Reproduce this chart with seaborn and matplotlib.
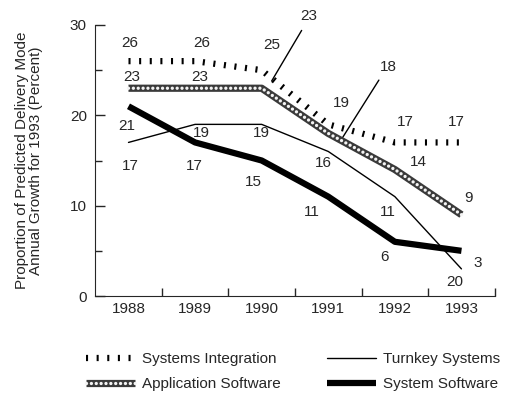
import pandas as pd
import matplotlib
matplotlib.use("Agg")
from matplotlib import pyplot as plt
from matplotlib.lines import Line2D
from matplotlib.legend_handler import HandlerTuple
import seaborn as sns

# chart data
years = [1988, 1989, 1990, 1991, 1992, 1993]
systems_integration = [26, 26, 25, 19, 17, 17]
application_software = [23, 23, 23, 18, 14, 9]
turnkey_systems = [17, 19, 19, 16, 11, 3]
system_software = [21, 17, 15, 11, 6, 5]

# value labels as printed on the chart: (text, x, y)
point_labels = [
    ("26", 1988.02, 28.0), ("26", 1989.1, 28.0), ("25", 1990.15, 27.8),
    ("23", 1988.05, 24.2), ("23", 1989.07, 24.2),
    ("21", 1987.97, 18.8), ("19", 1989.1, 18.0), ("19", 1990.0, 18.0),
    ("17", 1988.02, 14.4), ("17", 1988.99, 14.4), ("15", 1989.87, 12.6),
    ("23", 1990.7, 31.0), ("18", 1991.9, 25.4),
    ("19", 1991.2, 21.4), ("17", 1992.15, 19.3), ("17", 1992.93, 19.3),
    ("16", 1990.92, 14.7), ("14", 1992.35, 14.8), ("9", 1993.1, 10.8),
    ("11", 1990.76, 9.3), ("11", 1991.9, 9.3), ("6", 1991.85, 4.3),
    ("3", 1993.25, 3.6), ("20", 1992.9, 1.6),
]

df = pd.DataFrame({
    'Year': years,
    'Systems Integration': systems_integration,
    'Application Software': application_software,
    'Turnkey Systems': turnkey_systems,
    'System Software': system_software,
})

sns.set_style("ticks")
plt.rcParams['font.family'] = ['Liberation Sans', 'DejaVu Sans']

fig = plt.figure(figsize=(5.23, 4.0), dpi=100)
ax = fig.add_axes([0.182, 0.26, 0.764, 0.6775])

si_style = dict(color='black', linewidth=4.5, linestyle=(0, (0.33, 1.37)), dash_capstyle='butt')
sns.lineplot(x='Year', y='Systems Integration', data=df, ax=ax, **si_style)

# patterned line: dark band with a row of light dots on top
as_base = dict(color='#3a3a3a', linewidth=5.2, solid_capstyle='butt')
as_top = dict(color='#f4f4f4', linewidth=2.4, linestyle=(0, (0.01, 1.45)), dash_capstyle='round')
sns.lineplot(x='Year', y='Application Software', data=df, ax=ax, **as_base)
sns.lineplot(x='Year', y='Application Software', data=df, ax=ax, **as_top)

tk_style = dict(color='black', linewidth=1.0)
sns.lineplot(x='Year', y='Turnkey Systems', data=df, ax=ax, **tk_style)

ss_style = dict(color='black', linewidth=4.5, solid_capstyle='butt')
sns.lineplot(x='Year', y='System Software', data=df, ax=ax, **ss_style)

for txt, x, y in point_labels:
    ax.text(x, y, txt, ha='center', va='center', fontsize=11, clip_on=False)

# leader lines for the two callouts
ax.plot([1990.15, 1990.6], [23.8, 29.4], color='black', lw=1, clip_on=False)
ax.plot([1991.22, 1991.76], [17.6, 23.9], color='black', lw=1, clip_on=False)

ax.set_xlim(1987.5, 1993.5)
ax.set_ylim(0, 30)
ax.set_xticks(years)
ax.set_xticklabels([str(y) for y in years], fontsize=11)
ax.set_xticks([y + 0.5 for y in years], minor=True)
ax.tick_params(axis='x', which='major', length=0, pad=4)
ax.tick_params(axis='x', which='minor', direction='in', length=6, width=1)
ax.set_yticks([0, 10, 20, 30])
ax.set_yticks([5, 15, 25], minor=True)
ax.tick_params(axis='y', which='major', direction='in', length=7, width=1, labelsize=11, pad=6)
ax.tick_params(axis='y', which='minor', direction='in', length=5, width=1)
sns.despine(ax=ax)
ax.set_xlabel('')
ax.set_ylabel('Proportion of Predicted Delivery Mode\nAnnual Growth for 1993 (Percent)',
              fontsize=11, linespacing=1.0)
ax.yaxis.set_label_coords(-0.13, 0.5)

handles = [
    Line2D([], [], **si_style),
    (Line2D([], [], **as_base), Line2D([], [], **as_top)),
    Line2D([], [], **tk_style),
    Line2D([], [], **ss_style),
]
labels = ['Systems Integration', 'Application Software', 'Turnkey Systems', 'System Software']
fig.legend(handles, labels, ncol=2, loc='upper left', bbox_to_anchor=(0.164, 0.12),
           frameon=False, fontsize=11, handlelength=3.2, handletextpad=0.5,
           columnspacing=3.0, labelspacing=0.75, borderpad=0, borderaxespad=0,
           handler_map={tuple: HandlerTuple(ndivide=1, pad=0)})

fig.savefig('out.png', dpi=100)
